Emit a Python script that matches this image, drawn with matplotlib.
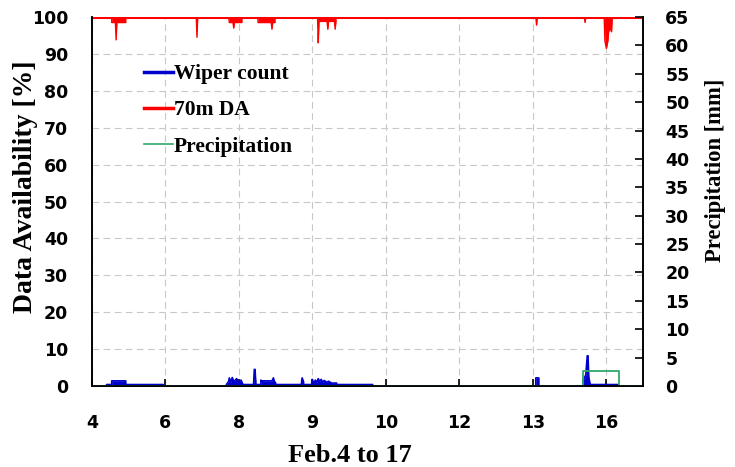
import matplotlib.pyplot as plt
from matplotlib.lines import Line2D

# x axis positions are in "tick slots", labels are the day numbers
tick_pos = [0, 1, 2, 3, 4, 5, 6, 7]
tick_labels = ['4', '6', '8', '9', '10', '12', '13', '16']

# 70m data availability [%]
da_x = [0.00, 0.27, 0.27, 0.32, 0.33, 0.34, 0.46, 0.46,
        1.42, 1.43, 1.44,
        1.86, 1.87, 1.92, 1.93, 1.94, 2.04, 2.04,
        2.26, 2.26, 2.44, 2.45, 2.46, 2.49, 2.49,
        3.07, 3.08, 3.09, 3.09, 3.20, 3.21, 3.22, 3.30, 3.31, 3.32, 3.32,
        6.04, 6.05, 6.06,
        6.70, 6.71, 6.72,
        6.97, 6.98, 7.00, 7.02, 7.03, 7.05, 7.07, 7.08, 7.50]
da_y = [100, 100, 98.5, 98.5, 93.8, 98.5, 98.5, 100,
        100, 94.5, 100,
        100, 98.5, 98.5, 97.0, 98.5, 98.5, 100,
        100, 98.5, 98.5, 96.7, 98.5, 98.5, 100,
        100, 93.0, 98.8, 98.8, 98.8, 96.7, 98.8, 98.8, 96.7, 98.8, 100,
        100, 97.8, 100,
        100, 98.5, 100,
        100, 93.5, 91.5, 93.5, 96.0, 97.0, 96.0, 100, 100]

# wiper count (left axis)
wc_x = [0.20, 0.20, 0.27, 0.27, 0.46, 0.46, 0.97, 0.97,
        1.83, 1.83, 1.86, 1.87, 1.89, 1.91, 1.93, 1.97, 1.99, 2.03, 2.05, 2.05,
        2.20, 2.21, 2.22, 2.23, 2.23,
        2.30, 2.30, 2.32, 2.32, 2.45, 2.47, 2.48, 2.50, 2.50,
        2.85, 2.86, 2.88, 2.88, 2.99, 3.00, 3.02, 3.04, 3.06, 3.08, 3.10,
        3.12, 3.14, 3.16, 3.20, 3.22, 3.26, 3.33, 3.33, 3.82, 3.82,
        6.04, 6.04, 6.08, 6.08,
        6.68, 6.68, 6.72, 6.74, 6.75, 6.76, 6.78, 6.78, 7.16, 7.16]
wc_y = [0, 0.4, 0.4, 1.4, 1.4, 0.4, 0.4, 0,
        0, 0.4, 1.2, 2.2, 1.0, 2.3, 1.2, 2.0, 1.0, 1.6, 0.6, 0.4,
        0.4, 4.5, 4.5, 1.0, 0.4,
        0.4, 1.6, 1.0, 1.4, 1.4, 2.2, 1.4, 0.8, 0.4,
        0.4, 2.2, 1.2, 0.4, 0.4, 1.8, 0.6, 1.6, 1.0, 2.0, 1.2,
        1.8, 1.0, 1.5, 1.0, 1.3, 0.8, 0.8, 0.4, 0.4, 0,
        0, 2.2, 2.2, 0,
        0, 1.5, 3.0, 8.2, 8.2, 2.5, 0.4, 0.4, 0.4, 0]

# precipitation [mm] (right axis)
pr_x = [0.0, 6.68, 6.68, 7.17, 7.17, 7.5]
pr_y = [0, 0, 2.7, 2.7, 0, 0]

red = '#ff0000'
blue = '#0000cc'
green = '#2ea86a'
serif = 'Liberation Serif'
W, H = 735, 467

plt.rcParams['font.family'] = 'DejaVu Sans'
plt.rcParams['font.weight'] = 'bold'

fig = plt.figure(figsize=(7.35, 4.67), dpi=100)
ax = fig.add_axes([0.125, 0.1734, 0.75, 0.7902])
ax2 = ax.twinx()

ax.fill_between(da_x, da_y, 100, color=red, lw=0)
ax.plot(da_x, da_y, color=red, lw=1.0)
ax.axhline(100, color=red, lw=2.2)
ax.fill_between(wc_x, 0, wc_y, color=blue, lw=0)
ax.plot(wc_x, wc_y, color=blue, lw=1.2)

ax2.plot(pr_x, pr_y, color=green, lw=1.3)

ax.set_xlim(0, 7.5)
ax.set_ylim(0, 100)
ax2.set_ylim(0, 65)
ax.set_xticks(tick_pos)
ax.set_xticklabels(tick_labels)
ax.set_yticks(range(0, 101, 10))
ax2.set_yticks(range(0, 66, 5))

ax.grid(True, color='#c8c8c8', ls=(0, (6, 4)), lw=0.8)
ax.set_axisbelow(True)

ax.tick_params(axis='x', direction='in', length=5, width=1.2, pad=20, labelsize=12.5)
ax.tick_params(axis='y', direction='in', length=0, pad=17, labelsize=12.5)
ax2.tick_params(axis='y', direction='in', length=6, width=1.2, pad=16, labelsize=12.5)

for a in (ax, ax2):
    a.spines['top'].set_visible(False)
    a.spines['left'].set_linewidth(1.2)
    a.spines['right'].set_linewidth(1.2)
    a.spines['bottom'].set_linewidth(1.2)

# axis titles placed by pixel centre
fig.text(350 / W, 1 - 455 / H, 'Feb.4 to 17', family=serif, fontsize=19,
         fontweight='bold', ha='center', va='center')
fig.text(25 / W, 1 - 187 / H, 'Data Availability [%]', family=serif, fontsize=20,
         fontweight='bold', ha='center', va='center', rotation=90)
fig.text(715 / W, 1 - 170 / H, 'Precipitation [mm]', family=serif, fontsize=16.3,
         fontweight='bold', ha='center', va='center', rotation=90)

handles = [Line2D([], [], color=blue, lw=2.5),
           Line2D([], [], color=red, lw=2.5),
           Line2D([], [], color=green, lw=1.2)]
leg = ax.legend(handles, ['Wiper count', '70m DA', 'Precipitation'],
                loc='upper left', bbox_to_anchor=(0.059, 0.925), frameon=False,
                handlelength=1.35, handletextpad=0.05, labelspacing=0.75,
                prop={'family': serif, 'weight': 'bold', 'size': 15.5})

fig.savefig('out.png', dpi=100)
